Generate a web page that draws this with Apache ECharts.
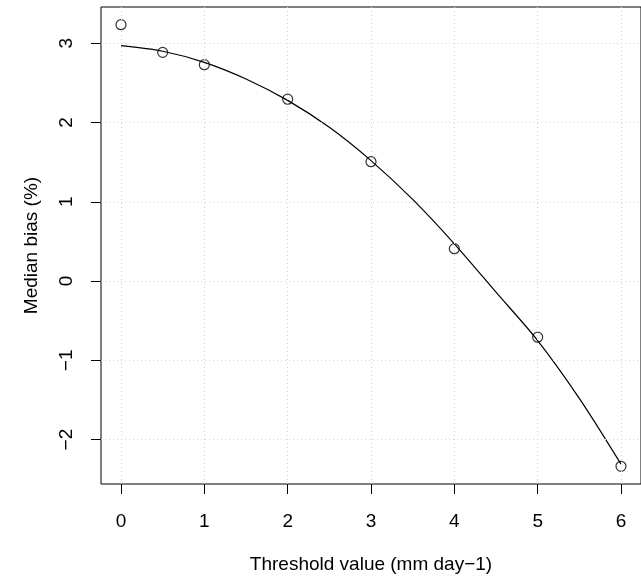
<!DOCTYPE html>
<html>
<head>
<meta charset="utf-8">
<script src="https://cdn.jsdelivr.net/npm/echarts@6/dist/echarts.min.js"></script>
<style>
  html, body { margin: 0; padding: 0; background: #fff; }
  #chart { width: 641px; height: 583px; }
</style>
</head>
<body>
<div id="chart"></div>
<script>
// observed points
var thresholds = [0, 0.5, 1, 2, 3, 4, 5, 6];
var medianBias = [3.235, 2.886, 2.73, 2.295, 1.506, 0.409, -0.708, -2.337];

// fitted curve
var fitX = [0, 0.5, 1, 1.5, 2, 2.5, 3, 3.5, 4, 4.5, 5, 5.5, 6];
var fitY = [2.97, 2.90, 2.76, 2.55, 2.28, 1.94, 1.52, 1.03, 0.47, -0.14, -0.75, -1.48, -2.31];

var xTicks = [0, 1, 2, 3, 4, 5, 6];
var yTicks = [-2, -1, 0, 1, 2, 3];

var font = 'Liberation Sans, Arial, Helvetica, sans-serif';

function minus(v) {
	return String(v).replace('-', '\u2212');
}

var pts = thresholds.map(function (x, i) { return [x, medianBias[i]]; });
var fit = fitX.map(function (x, i) { return [x, fitY[i]]; });

var gridLines = xTicks.map(function (v) { return { xAxis: v }; })
	.concat(yTicks.map(function (v) { return { yAxis: v }; }));

var option = {
	animation: false,
	backgroundColor: '#fff',
	grid: {
		left: 101,
		top: 7,
		width: 546,
		height: 477,
		show: true,
		borderColor: '#000',
		borderWidth: 1,
		backgroundColor: 'transparent'
	},
	xAxis: {
		type: 'value',
		min: -0.24,
		max: 6.24,
		name: 'Threshold value (mm day\u22121)',
		nameLocation: 'middle',
		nameGap: 71,
		nameTextStyle: { color: '#000', fontSize: 19, fontFamily: font },
		axisLine: { show: false, onZero: false },
		axisTick: { show: true, customValues: xTicks, length: 10, lineStyle: { color: '#000', width: 1 } },
		axisLabel: { customValues: xTicks, margin: 28, color: '#000', fontSize: 19, fontFamily: font, formatter: minus },
		splitLine: { show: false }
	},
	yAxis: {
		type: 'value',
		min: -2.56,
		max: 3.458,
		name: 'Median bias (%)',
		nameLocation: 'middle',
		nameGap: 60,
		nameTextStyle: { color: '#000', fontSize: 19, fontFamily: font },
		axisLine: { show: false, onZero: false },
		axisTick: { show: true, customValues: yTicks, length: 10, lineStyle: { color: '#000', width: 1 } },
		axisLabel: { customValues: yTicks, rotate: 90, margin: 25, color: '#000', fontSize: 19, fontFamily: font, formatter: minus },
		splitLine: { show: false }
	},
	series: [
		{
			// dotted reference grid
			type: 'line',
			data: [],
			z: 1,
			silent: true,
			markLine: {
				silent: true,
				symbol: ['none', 'none'],
				label: { show: false },
				animation: false,
				lineStyle: { color: '#d3d3d3', type: [1, 3], width: 1 },
				emphasis: { disabled: true },
				data: gridLines
			}
		},
		{
			type: 'line',
			data: fit,
			smooth: 0.3,
			showSymbol: false,
			silent: true,
			z: 3,
			lineStyle: { color: '#000', width: 1.2 }
		},
		{
			type: 'scatter',
			data: pts,
			symbol: 'circle',
			symbolSize: 10,
			z: 4,
			itemStyle: { color: 'transparent', borderColor: '#000', borderWidth: 1.2 }
		}
	]
};

var chart = echarts.init(document.getElementById('chart'));
chart.setOption(option);
</script>
</body>
</html>
